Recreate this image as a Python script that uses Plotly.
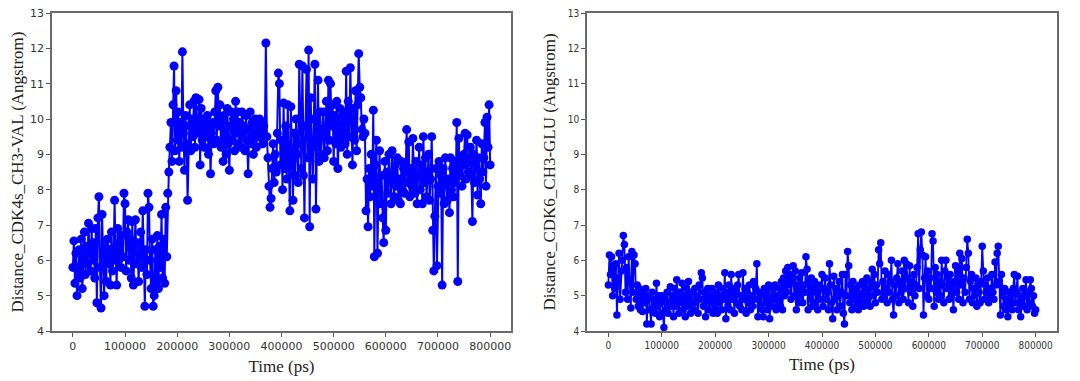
import plotly.graph_objects as go
from plotly.subplots import make_subplots

time_ps = list(range(0, 800001, 2000))

dist_cdk4s_val = [
    5.8, 6.55, 5.35, 6.2, 5.0, 5.8, 6.3, 5.5, 6.6, 5.2, 6.0, 6.8, 5.6, 6.4, 5.9, 7.05, 6.2, 5.7, 6.9, 6.0,
    6.5, 5.5, 6.9, 4.8, 7.2, 7.8, 5.8, 4.65, 7.3, 6.1, 5.0, 6.4, 5.4, 6.6, 5.9, 6.3, 5.3, 6.8, 5.7, 6.0,
    7.7, 6.2, 5.3, 6.9, 6.0, 6.5, 5.8, 6.7, 6.1, 7.9, 7.6, 5.7, 6.8, 7.15, 6.0, 6.6, 5.5, 7.1, 5.3, 6.4,
    7.15, 5.9, 6.5, 5.4, 6.2, 6.8, 5.8, 7.4, 6.1, 4.7, 6.3, 5.6, 7.9, 7.5, 6.0, 5.2, 6.6, 4.7, 5.0, 6.3,
    5.4, 6.7, 5.2, 6.4, 5.8, 7.3, 5.5, 6.6, 5.35, 7.5, 6.1, 7.9, 8.5, 9.2, 9.9, 8.8, 10.4, 11.5, 9.1, 10.8,
    9.4, 10.2, 8.8, 9.9, 9.2, 11.9, 9.6, 8.55, 10.1, 9.3, 7.7, 9.8, 10.4, 9.1, 10.0, 9.5, 10.5, 9.2, 10.6, 9.7,
    9.6, 10.55, 8.7, 10.3, 9.4, 10.0, 9.2, 9.9, 9.5, 10.1, 9.0, 9.7, 8.45, 9.6, 9.9, 9.3, 10.2, 10.8, 9.4, 10.9,
    9.8, 10.4, 9.2, 9.9, 8.8, 10.1, 9.5, 9.0, 10.3, 9.3, 8.55, 9.8, 10.2, 9.4, 10.0, 9.1, 10.5, 9.6, 10.2, 9.3,
    9.9, 9.2, 10.2, 9.5, 9.8, 9.1, 10.1, 9.4, 8.45, 9.7, 10.2, 9.3, 9.9, 9.0, 9.6, 10.0, 9.2, 9.8, 9.5, 10.0,
    9.6, 9.9, 9.3, 9.8, 9.5, 12.15, 9.5, 8.9, 8.1, 7.5, 7.75, 8.6, 9.3, 8.2, 9.0, 8.5, 9.6, 11.3, 11.0, 8.7,
    9.4, 8.0, 10.45, 8.6, 9.8, 8.3, 10.4, 9.1, 7.4, 10.35, 8.8, 7.7, 9.6, 8.4, 10.0, 9.0, 8.2, 11.55, 9.3, 8.6,
    11.5, 8.4, 7.2, 9.8, 11.4, 8.9, 11.95, 6.95, 10.6, 9.2, 8.3, 10.0, 11.55, 7.45, 9.5, 11.1, 8.8, 10.2, 9.0, 9.7,
    10.2, 8.9, 9.6, 10.5, 9.1, 11.1, 9.4, 11.0, 9.8, 10.4, 8.8, 10.1, 9.3, 10.5, 8.6, 9.9, 10.3, 9.2, 10.0, 9.5,
    10.2, 9.3, 11.35, 9.0, 10.5, 9.5, 11.45, 10.0, 8.7, 10.3, 9.4, 10.8, 9.1, 10.4, 11.85, 10.9, 10.6, 9.7, 9.5, 10.0,
    9.6, 7.4, 8.3, 6.95, 8.6, 7.8, 9.0, 8.1, 10.25, 6.1, 8.7, 9.4, 6.2, 8.0, 9.1, 7.6, 8.4, 7.2, 6.5, 8.8,
    6.85, 8.5, 7.9, 9.0, 8.2, 7.6, 9.1, 8.4, 7.8, 8.7, 8.1, 8.9, 7.7, 8.3, 7.6, 8.8, 8.0, 8.6, 7.9, 8.5,
    9.7, 8.2, 9.35, 7.8, 8.6, 8.1, 9.45, 8.3, 7.9, 8.8, 7.6, 8.4, 9.2, 8.0, 8.7, 7.6, 9.5, 8.2, 8.9, 7.8,
    8.5, 9.0, 7.7, 8.3, 9.5, 6.85, 5.7, 7.25, 8.6, 5.85, 8.1, 8.8, 7.9, 8.4, 5.3, 8.6, 7.6, 8.9, 8.2, 7.7,
    8.3, 7.35, 8.9, 8.0, 8.6, 7.8, 8.8, 8.2, 9.9, 5.4, 9.45, 8.4, 8.9, 8.1, 8.7, 9.0, 9.6, 8.3, 9.55, 8.5,
    8.8, 9.2, 8.4, 7.1, 9.0, 8.2, 8.7, 9.4, 7.85, 8.9, 8.3, 7.6, 9.3, 8.5, 8.9, 9.9, 8.1, 10.05, 9.2, 10.4,
    8.7,
]

dist_cdk6_glu = [
    5.3, 6.15, 5.6, 6.1, 5.0, 5.8, 5.2, 5.9, 4.45, 5.5, 6.2, 4.9, 5.7, 6.0, 6.7, 6.45, 5.1, 5.8, 4.9, 6.1,
    5.4, 4.65, 6.25, 5.1, 6.15, 5.9, 4.9, 5.3, 4.7, 5.2, 4.6, 5.0, 4.55, 5.1, 4.8, 5.2, 4.2, 4.9, 5.0, 4.6,
    4.2, 5.1, 4.6, 4.9, 4.5, 5.35, 4.7, 5.0, 4.4, 4.8, 5.0, 4.5, 4.1, 4.9, 4.6, 5.1, 4.5, 4.8, 5.25, 4.7,
    5.0, 4.4, 5.2, 4.7, 5.45, 4.9, 4.5, 5.1, 4.8, 5.35, 4.6, 5.0, 4.4, 5.2, 4.7, 5.4, 4.9, 4.5, 5.1, 4.8,
    4.6, 5.2, 4.8, 5.0, 4.5, 5.3, 4.9, 5.65, 5.5, 4.7, 5.1, 4.4, 4.9, 5.2, 4.6, 5.0, 4.8, 5.2, 4.5, 5.0,
    4.7, 5.1, 4.5, 5.3, 4.8, 5.0, 4.6, 5.2, 4.9, 5.65, 4.35, 5.1, 4.7, 5.3, 4.6, 5.6, 4.9, 5.2, 4.5, 5.1,
    4.8, 5.3, 5.6, 4.7, 5.0, 4.6, 5.65, 4.9, 5.2, 4.5, 5.1, 4.8, 5.3, 4.6, 5.0, 4.7, 5.4, 4.9, 5.2, 5.9,
    4.4, 5.1, 4.7, 5.0, 4.6, 4.4, 5.2, 4.8, 5.1, 4.6, 5.3, 4.35, 5.0, 4.7, 5.2, 4.9, 5.3, 4.6, 5.0, 4.8,
    5.2, 4.7, 5.4, 4.6, 5.5, 5.0, 5.7, 5.1, 5.8, 5.3, 5.6, 4.9, 5.4, 5.85, 5.0, 5.7, 4.6, 5.3, 4.8, 5.5,
    5.0, 5.65, 4.8, 5.3, 5.1, 6.1, 5.75, 4.6, 5.4, 4.9, 5.5, 4.7, 5.2, 5.4, 4.8, 5.1, 4.6, 5.3, 4.9, 5.2,
    5.6, 4.7, 5.2, 5.5, 4.9, 5.1, 4.6, 5.9, 5.3, 4.8, 4.35, 5.55, 4.9, 5.2, 4.6, 5.0, 5.4, 4.7, 5.1, 5.6,
    4.5, 4.2, 5.6, 5.0, 6.25, 5.85, 4.8, 5.3, 4.6, 5.4, 4.9, 5.2, 4.7, 5.1, 4.6, 5.3, 4.8, 5.0, 5.4, 4.7,
    5.3, 4.8, 5.5, 4.9, 5.2, 4.7, 5.4, 5.75, 5.0, 5.6, 4.8, 5.3, 5.1, 6.3, 5.9, 6.5, 4.9, 5.4, 5.0, 5.7,
    5.2, 4.8, 5.6, 5.1, 5.4, 6.0, 4.9, 4.45, 5.3, 5.0, 5.5, 5.9, 4.8, 5.4, 5.1, 5.7, 4.9, 6.0, 5.2, 5.9,
    5.5, 4.8, 5.85, 5.1, 5.4, 4.7, 5.6, 5.0, 5.3, 5.8, 6.75, 5.2, 6.3, 6.8, 6.15, 4.45, 5.5, 6.1, 5.0, 5.7,
    4.9, 5.5, 5.2, 6.75, 6.55, 4.7, 5.8, 5.1, 5.6, 4.9, 5.4, 5.0, 6.0, 5.3, 4.8, 5.7, 6.0, 5.2, 5.5, 4.9,
    5.6, 5.0, 5.3, 4.6, 5.4, 5.85, 5.1, 5.7, 4.9, 6.2, 5.3, 6.05, 4.8, 5.5, 5.1, 5.8, 6.6, 6.2, 4.9, 5.4,
    5.6, 4.8, 5.2, 5.0, 5.5, 4.7, 5.3, 5.1, 4.8, 5.4, 6.4, 5.7, 4.9, 5.3, 5.1, 5.5, 4.8, 5.2, 5.0, 5.6,
    5.1, 4.9, 5.95, 5.3, 6.2, 6.4, 5.4, 4.45, 5.6, 5.0, 4.7, 5.2, 4.6, 4.9, 4.4, 5.1, 4.7, 5.0, 4.6, 5.2,
    5.6, 4.8, 5.1, 5.55, 4.6, 5.0, 4.4, 4.9, 5.2, 4.7, 5.0, 5.45, 4.6, 5.1, 4.8, 5.45, 5.2, 4.7, 5.0, 4.5,
    4.6,
]

x_ticks = [0, 100000, 200000, 300000, 400000, 500000, 600000, 700000, 800000]
y_ticks = [4, 5, 6, 7, 8, 9, 10, 11, 12, 13]

# the page body adds an 8px offset, so the figure is 8px smaller than the window
W, H = 1072, 373
ml, mr, mt, mb = 44, 23, 5, 50
pw = W - ml - mr

fig = make_subplots(rows=1, cols=2)

fig.add_trace(go.Scatter(
    x=time_ps, y=dist_cdk4s_val, mode="lines+markers",
    line=dict(color="#0000ff", width=2),
    marker=dict(color="#0000ff", size=9),
    showlegend=False), row=1, col=1)

fig.add_trace(go.Scatter(
    x=time_ps, y=dist_cdk6_glu, mode="lines+markers",
    line=dict(color="#0000ff", width=1.8),
    marker=dict(color="#0000ff", size=7.5),
    showlegend=False), row=1, col=2)

title_font = dict(family="Liberation Serif, Times New Roman, serif", size=17, color="#222")
axis_common = dict(showline=True, mirror=True, linecolor="#6a6a6a", linewidth=1.5,
                   ticks="outside", ticklen=4, tickcolor="#555", tickwidth=1,
                   showgrid=False, zeroline=False, automargin=False,
                   ticklabeloverflow="allow")

fig.update_layout(
    width=W, height=H,
    margin=dict(l=ml, r=mr, t=mt, b=mb),
    plot_bgcolor="white", paper_bgcolor="white",
    xaxis=dict(domain=[0, (503 - ml) / pw], range=[-40000, 840000],
               tickvals=x_ticks, ticktext=[str(v) for v in x_ticks],
               title=dict(text="Time (ps)", font=title_font, standoff=8),
               tickfont=dict(family="DejaVu Sans", size=11, color="#333"), **axis_common),
    yaxis=dict(range=[4, 13], tickvals=y_ticks,
               title=dict(text="Distance_CDK4s_CH3-VAL (Angstrom)", font=title_font, standoff=10),
               tickfont=dict(family="DejaVu Sans", size=11, color="#333"), **axis_common),
    xaxis2=dict(domain=[(579 - ml) / pw, 1.0], range=[-40000, 840000],
                tickvals=x_ticks, ticktext=[str(v) for v in x_ticks],
                title=dict(text="Time (ps)", font=title_font, standoff=8),
                tickfont=dict(family="DejaVu Sans Condensed, DejaVu Sans", size=10, color="#333"), **axis_common),
    yaxis2=dict(range=[4, 13], tickvals=y_ticks,
                title=dict(text="Distance_CDK6_CH3-GLU (Angstrom)", font=title_font, standoff=8),
                tickfont=dict(family="DejaVu Sans Condensed, DejaVu Sans", size=10, color="#333"), **axis_common),
)

fig.write_html("out.html")
